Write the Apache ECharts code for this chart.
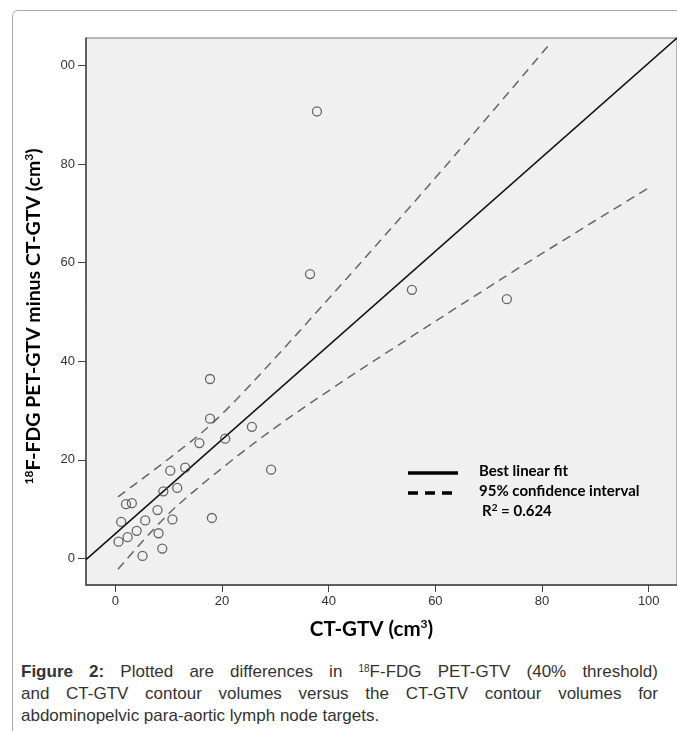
<!DOCTYPE html>
<html lang="en">

<head>
    <meta charset="UTF-8">
    <script src="https://cdn.jsdelivr.net/npm/echarts@6.0.0/dist/echarts.min.js"></script>
    <title>Figure 2</title>
    <style>
        body { margin: 0; background: #fff; }
        #card {
            position: absolute; left: 12px; top: 10px; width: 720px; height: 800px;
            border: 1px solid #aaa; border-radius: 6px; box-sizing: border-box;
        }
        #main { position: absolute; left: 0; top: 0; width: 677px; height: 650px; }
        #caption {
            position: absolute; left: 21px; top: 661px; width: 637px;
            font-family: "Liberation Sans Narrow", "Liberation Sans", Arial, sans-serif; font-size: 17px;
            line-height: 22px; color: #333;
        }
        #caption div { text-align: justify; text-align-last: justify; white-space: nowrap; }
        #caption div.last { text-align-last: left; }
        #caption sup { font-size: 10px; vertical-align: 5px; line-height: 0; }
    </style>
</head>

<body>
    <div id="card"></div>
    <div id="main"></div>
    <div id="caption">
        <div><b>Figure 2:</b> Plotted are differences in <sup>18</sup>F-FDG PET-GTV (40% threshold)</div>
        <div>and CT-GTV contour volumes versus the CT-GTV contour volumes for</div>
        <div class="last">abdominopelvic para-aortic lymph node targets.</div>
    </div>
    <script>
        // CT-GTV (x) 和 差值 (y)
        var ctGtv = [17.75, 17.75, 15.75, 20.6, 25.6, 29.2, 10.3, 13.1, 11.6, 9.0, 2.0, 3.1, 1.1, 7.9,
            5.6, 10.7, 18.1, 4.0, 2.3, 0.6, 8.1, 8.8, 5.1, 37.8, 36.5, 55.6, 73.4];
        var diffGtv = [36.4, 28.35, 23.4, 24.3, 26.7, 18.0, 17.8, 18.4, 14.3, 13.6, 11.0, 11.2, 7.4, 9.8,
            7.7, 7.9, 8.2, 5.6, 4.3, 3.4, 5.1, 2.0, 0.5, 90.7, 57.7, 54.5, 52.6];

        // 拟合线和置信区间
        var fitX = [-5.5, 105.5];
        var fitY = [-0.25, 105.8];
        var upperX = [0.5, 16.4, 25.9, 46.5, 64.3, 81.3];
        var upperY = [12.5, 25.7, 35.9, 60.6, 82.6, 104.2];
        var lowerX = [0.5, 11.4, 32.0, 72.1, 100.0];
        var lowerY = [-2.2, 10.5, 28.1, 56.5, 75.2];

        var xTicks = [0, 20, 40, 60, 80, 100];
        var yTicks = [0, 20, 40, 60, 80, 100];

        function pairs(xs, ys) {
            return xs.map(function (v, i) { return [v, ys[i]]; });
        }

        var tickFont = { fontFamily: 'Liberation Sans', fontSize: 13, color: '#333' };
        var boldFont = 'Lato';

        var myChart = echarts.init(document.getElementById('main'));
        var option = {
            animation: false,
            grid: {
                left: 86, top: 38, right: 0, bottom: 65,
                show: true, backgroundColor: '#f0f0f0', borderColor: '#777', borderWidth: 1
            },
            xAxis: {
                type: 'value', min: -5.5, max: 105.3,
                splitLine: { show: false },
                axisLine: { show: true, onZero: false, lineStyle: { color: '#444', width: 1.5 } },
                axisTick: { show: true, customValues: xTicks, length: 7, lineStyle: { color: '#444' } },
                axisLabel: Object.assign({ customValues: xTicks, margin: 10 }, tickFont),
                name: 'CT-GTV (cm{sup|3})',
                nameLocation: 'middle', nameGap: 33,
                nameTextStyle: {
                    fontFamily: boldFont, fontWeight: 'bold', fontSize: 20.5, color: '#000',
                    padding: [0, 20, 0, 0],
                    rich: { sup: { fontFamily: boldFont, fontWeight: 'bold', fontSize: 12, color: '#000', padding: [0, 0, 10, 0] } }
                }
            },
            yAxis: {
                type: 'value', min: -5.4, max: 105.6,
                splitLine: { show: false },
                axisLine: { show: true, onZero: false, lineStyle: { color: '#444', width: 1.5 } },
                axisTick: { show: true, customValues: yTicks, length: 8, lineStyle: { color: '#444' } },
                axisLabel: Object.assign({
                    customValues: yTicks, margin: 11,
                    formatter: function (v) { return v === 100 ? '00' : String(v); }
                }, tickFont),
                name: '{sup|18}F-FDG PET-GTV minus CT-GTV (cm{sup|3})',
                nameLocation: 'middle', nameGap: 41,
                nameTextStyle: {
                    fontFamily: boldFont, fontWeight: 'bold', fontSize: 19.5, color: '#000',
                    padding: [0, 10, 0, 0],
                    rich: { sup: { fontFamily: boldFont, fontWeight: 'bold', fontSize: 12, color: '#000', padding: [0, 0, 10, 0] } }
                }
            },
            series: [
                {
                    name: 'fit', type: 'line', data: pairs(fitX, fitY), showSymbol: false,
                    lineStyle: { color: '#111', width: 1.5 }, z: 3
                },
                {
                    name: 'upper', type: 'line', data: pairs(upperX, upperY), showSymbol: false, smooth: 0.3,
                    lineStyle: { color: '#666', width: 1.5, type: [9, 6] }, z: 2
                },
                {
                    name: 'lower', type: 'line', data: pairs(lowerX, lowerY), showSymbol: false, smooth: 0.3,
                    lineStyle: { color: '#666', width: 1.5, type: [9, 6] }, z: 2
                },
                {
                    name: 'points', type: 'scatter', data: pairs(ctGtv, diffGtv),
                    symbol: 'circle', symbolSize: 9,
                    itemStyle: { color: 'rgba(0,0,0,0)', borderColor: '#444', borderWidth: 1.3 }, z: 4
                }
            ],
            graphic: [
                { type: 'line', shape: { x1: 408, y1: 473, x2: 458, y2: 473 }, style: { stroke: '#000', lineWidth: 3.5 } },
                { type: 'line', shape: { x1: 408, y1: 493, x2: 458, y2: 493 }, style: { stroke: '#000', lineWidth: 3.5, lineDash: [10, 7] } },
                {
                    type: 'text', left: 479, top: 464,
                    style: { text: 'Best linear fit', font: 'bold 15px Lato', fill: '#000' }
                },
                {
                    type: 'text', left: 479, top: 484,
                    style: { text: '95% confidence interval', font: 'bold 15px Lato', fill: '#000' }
                },
                {
                    type: 'text', left: 482, top: 503,
                    style: {
                        text: 'R{s|2} = 0.624', font: 'bold 15px Lato', fill: '#000',
                        rich: { s: { font: 'bold 10px Lato', fill: '#000', padding: [0, 0, 7, 0] } }
                    }
                }
            ]
        };
        myChart.setOption(option);
    </script>
</body>

</html>
